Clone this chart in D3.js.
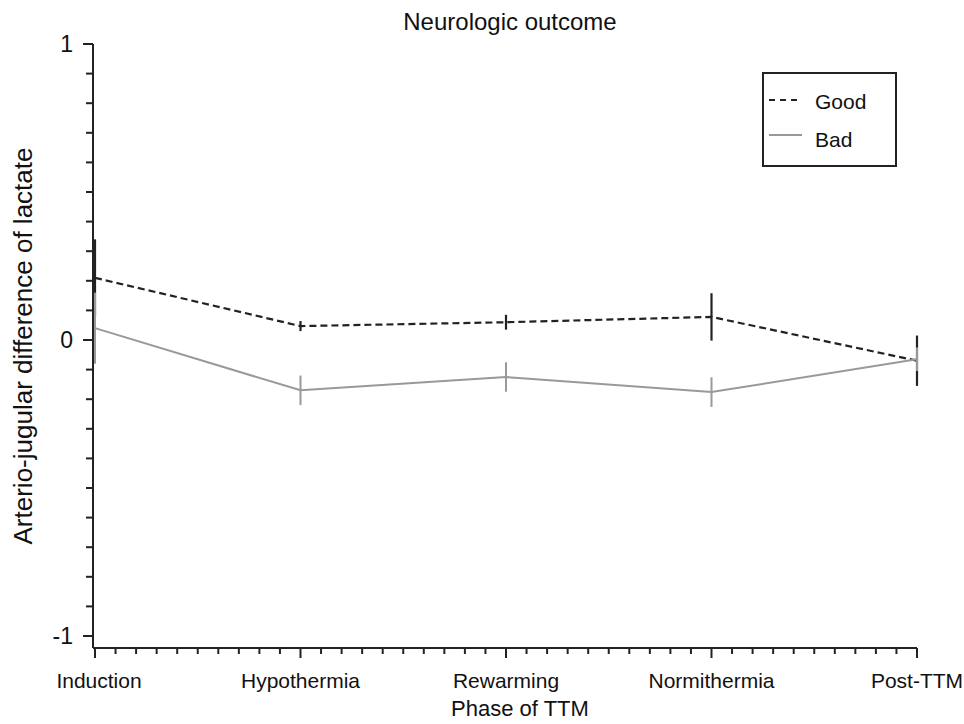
<!DOCTYPE html>
<html>
<head>
<meta charset="utf-8">
<script src="https://cdn.jsdelivr.net/npm/d3@7"></script>
<style>
  body { margin: 0; background: #fff; }
  svg { display: block; font-family: "Liberation Sans", Arial, sans-serif; }
</style>
</head>
<body>
<div id="chart"></div>
<script>
// phases of TTM (x categories)
const phases = ["Induction", "Hypothermia", "Rewarming", "Normithermia", "Post-TTM"];
// mean values
const goodMean = [0.21, 0.047, 0.06, 0.078, -0.07];
const goodErr = [0.13, 0.017, 0.025, 0.08, 0.085];
const badMean = [0.04, -0.17, -0.125, -0.176, -0.065];
const badErr = [0.12, 0.05, 0.05, 0.05, 0.04];
const yTicks = [-1, 0, 1];

const W = 964, H = 724;
const margin = { top: 44, right: 47, bottom: 81, left: 95 };

const svg = d3.select("#chart").append("svg").attr("width", W).attr("height", H);

const x = d3.scaleLinear().domain([0, phases.length - 1]).range([margin.left, W - margin.right]);
const y = d3.scaleLinear().domain([-1, 1]).range([636, margin.top]);
const axisY = H - margin.bottom + 5; // x axis sits a bit below -1

// y axis
const yAxis = svg.append("g").attr("transform", `translate(${margin.left - 2},0)`);
yAxis.append("line").attr("y1", y(1)).attr("y2", axisY).attr("stroke", "#222").attr("stroke-width", 2);
yAxis.selectAll(".minor").data(d3.range(-10, 11).map(d => d / 10)).join("line")
  .attr("x1", d => yTicks.includes(d) ? -10 : -7).attr("x2", 0)
  .attr("y1", d => y(d)).attr("y2", d => y(d))
  .attr("stroke", "#222").attr("stroke-width", 2);
yAxis.selectAll(".lbl").data(yTicks).join("text")
  .attr("x", -20).attr("y", d => y(d)).attr("dy", "0.36em")
  .attr("text-anchor", "end").attr("font-size", 23).attr("fill", "#111")
  .text(d => d);

// x axis
const xAxis = svg.append("g").attr("transform", `translate(0,${axisY})`);
xAxis.append("line").attr("x1", margin.left - 2).attr("x2", x(phases.length - 1)).attr("stroke", "#222").attr("stroke-width", 2);
xAxis.selectAll(".tick").data(d3.range(0, (phases.length - 1) * 10 + 1).map(d => d / 10)).join("line")
  .attr("x1", d => x(d)).attr("x2", d => x(d))
  .attr("y1", 0).attr("y2", d => Number.isInteger(d) ? 10 : 6)
  .attr("stroke", "#222").attr("stroke-width", 2);
xAxis.selectAll(".lbl").data(phases).join("text")
  .attr("x", (d, i) => x(i) + (i === 0 ? 4 : 0)).attr("y", 40)
  .attr("text-anchor", "middle").attr("font-size", 21).attr("fill", "#111")
  .text(d => d);

// titles
svg.append("text").attr("x", 510).attr("y", 30).attr("text-anchor", "middle")
  .attr("font-size", 24).attr("fill", "#111").text("Neurologic outcome");
svg.append("text").attr("x", 520).attr("y", 716).attr("text-anchor", "middle")
  .attr("font-size", 22).attr("fill", "#111").text("Phase of TTM");
svg.append("text").attr("transform", `translate(32,346) rotate(-90)`)
  .attr("text-anchor", "middle").attr("font-size", 26).attr("fill", "#111")
  .text("Arterio-jugular difference of lactate");

const line = d3.line().x((d, i) => x(i)).y(d => y(d));

// Good series (dashed black)
svg.append("path").datum(goodMean).attr("d", line)
  .attr("fill", "none").attr("stroke", "#222").attr("stroke-width", 2.2).attr("stroke-dasharray", "7,4");
svg.selectAll(".gerr").data(goodMean).join("line")
  .attr("x1", (d, i) => x(i)).attr("x2", (d, i) => x(i))
  .attr("y1", (d, i) => y(d + goodErr[i])).attr("y2", (d, i) => y(d - goodErr[i]))
  .attr("stroke", "#222").attr("stroke-width", 2.2);

// Bad series (solid grey)
svg.append("path").datum(badMean).attr("d", line)
  .attr("fill", "none").attr("stroke", "#999").attr("stroke-width", 2);
svg.selectAll(".berr").data(badMean).join("line")
  .attr("x1", (d, i) => x(i)).attr("x2", (d, i) => x(i))
  .attr("y1", (d, i) => y(d + badErr[i])).attr("y2", (d, i) => y(d - badErr[i]))
  .attr("stroke", "#999").attr("stroke-width", 2);

// legend
const lg = svg.append("g").attr("transform", "translate(763,73)");
lg.append("rect").attr("width", 133).attr("height", 93)
  .attr("fill", "#fff").attr("stroke", "#222").attr("stroke-width", 2);
lg.append("line").attr("x1", 6).attr("x2", 39).attr("y1", 27).attr("y2", 27)
  .attr("stroke", "#222").attr("stroke-width", 2).attr("stroke-dasharray", "6,5");
lg.append("line").attr("x1", 6).attr("x2", 39).attr("y1", 62).attr("y2", 62)
  .attr("stroke", "#999").attr("stroke-width", 2);
lg.append("text").attr("x", 52).attr("y", 28).attr("dy", "0.36em").attr("font-size", 21).attr("fill", "#111").text("Good");
lg.append("text").attr("x", 52).attr("y", 66).attr("dy", "0.36em").attr("font-size", 21).attr("fill", "#111").text("Bad");
</script>
</body>
</html>
